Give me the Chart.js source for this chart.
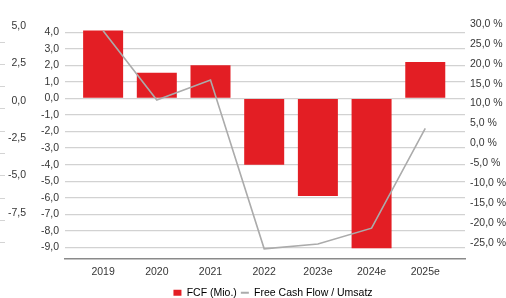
<!DOCTYPE html>
<html>
<head>
<meta charset="utf-8">
<script src="https://cdn.jsdelivr.net/npm/chart.js@4"></script>
<style>
  html, body { margin: 0; padding: 0; background: #fff; }
</style>
</head>
<body>
<canvas id="fcfChart" width="506" height="298"></canvas>
<script>
// Jahre (x-Achse)
const years = ['2019', '2020', '2021', '2022', '2023e', '2024e', '2025e'];
// FCF in Mio. (linke Achse)
const fcfValues = [4.1, 1.55, 2.0, -4.0, -5.9, -9.05, 2.2];
// Free Cash Flow / Umsatz in % (rechte Achse)
const fcfMarginValues = [28.3, 10.9, 15.9, -26.5, -25.3, -21.3, 3.8];
// Achsenbeschriftungen
const leftTicks = [4, 3, 2, 1, 0, -1, -2, -3, -4, -5, -6, -7, -8, -9];
const rightTicks = [30, 25, 20, 15, 10, 5, 0, -5, -10, -15, -20, -25];
const outerTicks = [5, 2.5, 0, -2.5, -5, -7.5];
const outerMarks = [1, 2, 3, 4, 5, 6, 7, 8, 9, 10];

const red = '#e31e24';
const gray = '#ababab';
const textColor = '#363636';
const font = { family: 'Liberation Sans, Arial, sans-serif', size: 10.5 };

// Zahlen im deutschen Format
function fmt(v) {
  return v.toFixed(1).replace('.', ',');
}

// Legende etwas nach rechts schieben
const legendShift = {
  id: 'legendShift',
  afterLayout(chart) {
    const lg = chart.legend;
    lg.left += 20; lg.right += 20;
  }
};

const ctx = document.getElementById('fcfChart').getContext('2d');
const chart = new Chart(ctx, {
  type: 'bar',
  data: {
    datasets: [{
      label: 'FCF (Mio.)',
      data: years.map((y, i) => ({ x: i, y: fcfValues[i] })),
      backgroundColor: red,
      borderWidth: 0,
      yAxisID: 'yLeft',
      categoryPercentage: 1,
      barPercentage: 0.745,
      order: 1
    }, {
      type: 'line',
      label: 'Free Cash Flow / Umsatz',
      data: years.map((y, i) => ({ x: i, y: fcfMarginValues[i] })),
      borderColor: gray,
      borderWidth: 1.6,
      pointRadius: 0,
      yAxisID: 'yRight',
      order: 0
    }]
  },
  options: {
    responsive: false,
    animation: false,
    devicePixelRatio: 1,
    layout: { padding: { top: 24, left: 0, right: 0, bottom: -10 } },
    plugins: {
      tooltip: { enabled: false },
      legend: {
        position: 'bottom',
        labels: {
          usePointStyle: true,
          pointStyleWidth: 8,
          boxHeight: 6,
          padding: 4,
          color: textColor,
          font: font,
          generateLabels: () => [
            { text: 'FCF (Mio.)', fillStyle: red, strokeStyle: red, lineWidth: 0, pointStyle: 'rect', datasetIndex: 0, hidden: false },
            { text: 'Free Cash Flow / Umsatz', fillStyle: gray, strokeStyle: gray, lineWidth: 2, pointStyle: 'line', datasetIndex: 1, hidden: false }
          ]
        }
      }
    },
    scales: {
      x: {
        type: 'linear',
        offset: false,
        min: -0.71,
        max: 6.74,
        afterBuildTicks: s => { s.ticks = years.map((y, i) => ({ value: i })); },
        afterFit: s => { s.height = 298 + 10 - 259 - s.chart.legend.height; },
        ticks: { callback: v => years[v], color: textColor, font: font, padding: 7, maxRotation: 0 },
        grid: { display: false, drawTicks: false },
        border: { display: true, color: '#8a8a8a', width: 1.5 }
      },
      yMarks: {
        position: 'left',
        weight: 3,
        min: 0.27,
        max: 10.81,
        afterBuildTicks: s => { s.ticks = outerMarks.map(v => ({ value: v })); },
        afterFit: s => { s.width = 5; },
        ticks: { display: false },
        grid: { drawOnChartArea: false, drawTicks: true, tickLength: 5, color: '#d4d4d4' },
        border: { display: false }
      },
      yOuter: {
        position: 'left',
        weight: 2,
        min: -10.58,
        max: 5.13,
        afterBuildTicks: s => { s.ticks = outerTicks.map(v => ({ value: v })); },
        afterFit: s => { s.width = 26; },
        ticks: { callback: v => fmt(v), color: textColor, font: font, padding: 5 },
        grid: { display: false, drawTicks: false },
        border: { display: false }
      },
      yLeft: {
        position: 'left',
        weight: 1,
        min: -9.7,
        max: 4.5,
        afterBuildTicks: s => { s.ticks = leftTicks.map(v => ({ value: v })); },
        afterFit: s => { s.width = 34; },
        ticks: { callback: v => fmt(v), color: textColor, font: font, padding: 6 },
        grid: { color: '#d2d2d2', lineWidth: 1.3, drawTicks: false },
        border: { display: false }
      },
      yRight: {
        position: 'right',
        min: -29.05,
        max: 30,
        afterBuildTicks: s => { s.ticks = rightTicks.map(v => ({ value: v })); },
        afterFit: s => { s.width = 41; },
        ticks: { callback: v => fmt(v) + ' %', color: textColor, font: font, padding: 5 },
        grid: { display: false, drawTicks: false },
        border: { display: false }
      }
    }
  },
  plugins: [legendShift]
});
</script>
</body>
</html>
